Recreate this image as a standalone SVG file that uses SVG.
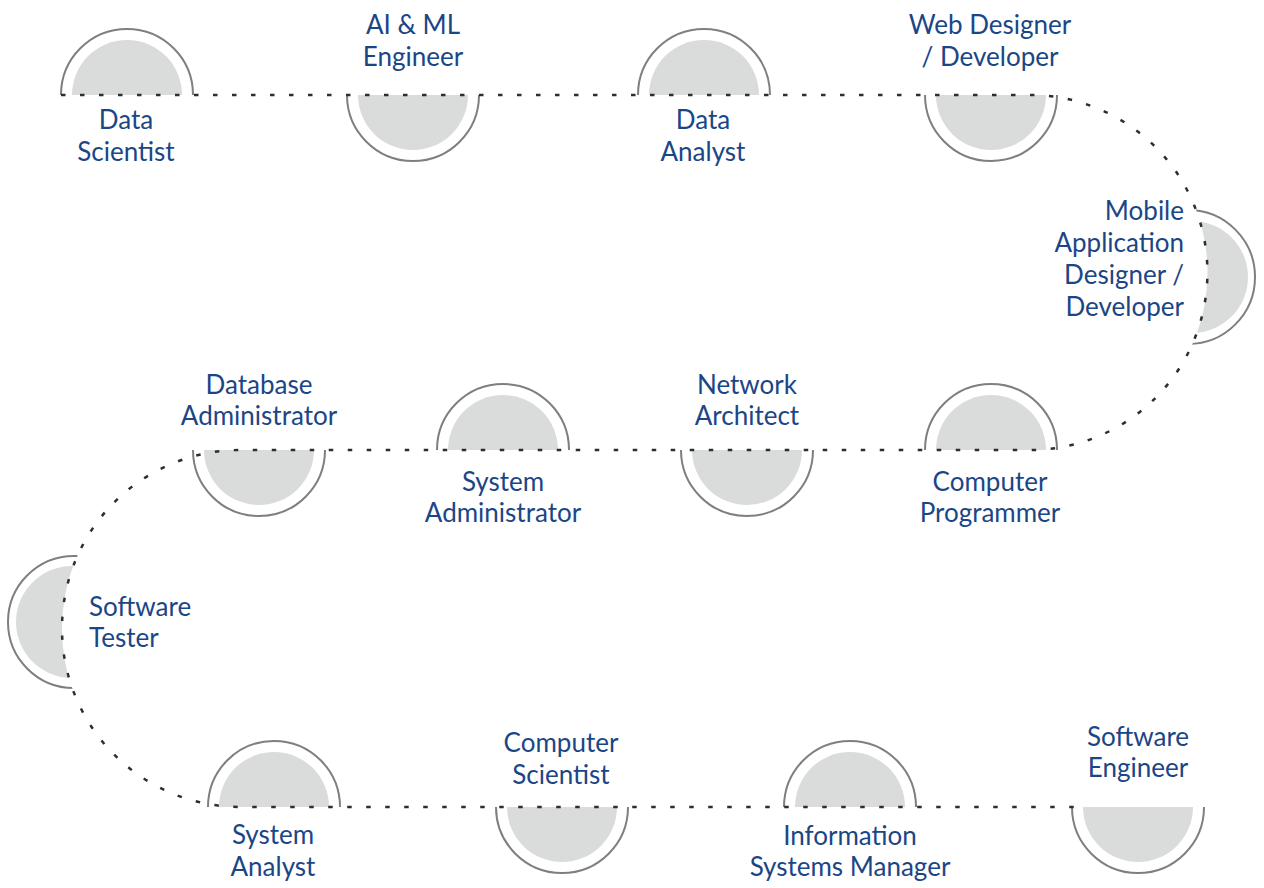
<svg xmlns="http://www.w3.org/2000/svg" xmlns:xlink="http://www.w3.org/1999/xlink" width="1264" height="888" viewBox="0 0 1264 888">
  <style>
    .fill { fill: #dadbdb; stroke: none; }
    .ring { fill: none; stroke: #7f7f7f; stroke-width: 2; }
    .path { fill: none; stroke: #2e2e2e; stroke-width: 2.5; stroke-dasharray: 4.5 14.5; }
    .lbl { font-family: Lato, "Open Sans", "Liberation Sans", sans-serif; font-size: 26px; fill: #1b4686; text-anchor: middle; }
    .lbl-r { text-anchor: end; }
    .lbl-l { text-anchor: start; }
  </style>
  <defs>
    <g id="nodeUp">
      <path class="fill" d="M-55,0 A55,55 0 0 1 55,0 Z"/>
      <path class="ring" d="M-66,0 A66,66 0 0 1 66,0"/>
    </g>
    <g id="nodeDown">
      <path class="fill" d="M-55,0 A55,55 0 0 0 55,0 Z"/>
      <path class="ring" d="M-66,0 A66,66 0 0 0 66,0"/>
    </g>
    <clipPath id="clipRight">
      <path clip-rule="evenodd" d="M0,0 H1264 V888 H0 Z M852.5,272.5 A177.5,177.5 0 1 0 1207.5,272.5 A177.5,177.5 0 1 0 852.5,272.5 Z"/>
    </clipPath>
    <clipPath id="clipLeft">
      <path clip-rule="evenodd" d="M0,0 H1264 V888 H0 Z M62,628.5 A178.5,178.5 0 1 0 419,628.5 A178.5,178.5 0 1 0 62,628.5 Z"/>
    </clipPath>
  </defs>
  <rect width="1264" height="888" fill="#ffffff"/>

  <g id="node-data-scientist">
    <use xlink:href="#nodeUp" href="#nodeUp" x="127" y="95"/>
    <text class="lbl" x="126" y="129">Data</text>
    <text class="lbl" x="126" y="161">Scientist</text>
  </g>
  <g id="node-ai-ml-engineer">
    <use xlink:href="#nodeDown" href="#nodeDown" x="413" y="95"/>
    <text class="lbl" x="413" y="34">AI &amp; ML</text>
    <text class="lbl" x="413" y="66">Engineer</text>
  </g>
  <g id="node-data-analyst">
    <use xlink:href="#nodeUp" href="#nodeUp" x="704" y="95"/>
    <text class="lbl" x="703" y="129">Data</text>
    <text class="lbl" x="703" y="161">Analyst</text>
  </g>
  <g id="node-web-designer">
    <use xlink:href="#nodeDown" href="#nodeDown" x="991" y="95"/>
    <text class="lbl" x="990" y="34">Web Designer</text>
    <text class="lbl" x="990" y="66">/ Developer</text>
  </g>
  <g id="node-mobile-app">
    <g clip-path="url(#clipRight)">
      <circle class="fill" cx="1192" cy="277" r="56"/>
      <circle class="ring" cx="1188" cy="277" r="67"/>
    </g>
    <text class="lbl lbl-r" x="1184" y="220">Mobile</text>
    <text class="lbl lbl-r" x="1184" y="252">Application</text>
    <text class="lbl lbl-r" x="1184" y="284">Designer /</text>
    <text class="lbl lbl-r" x="1184" y="316">Developer</text>
  </g>
  <g id="node-computer-programmer">
    <use xlink:href="#nodeUp" href="#nodeUp" x="991" y="450"/>
    <text class="lbl" x="990" y="491">Computer</text>
    <text class="lbl" x="990" y="522">Programmer</text>
  </g>
  <g id="node-network-architect">
    <use xlink:href="#nodeDown" href="#nodeDown" x="747" y="450"/>
    <text class="lbl" x="747" y="394">Network</text>
    <text class="lbl" x="747" y="425">Architect</text>
  </g>
  <g id="node-system-administrator">
    <use xlink:href="#nodeUp" href="#nodeUp" x="503" y="450"/>
    <text class="lbl" x="503" y="491">System</text>
    <text class="lbl" x="503" y="522">Administrator</text>
  </g>
  <g id="node-database-administrator">
    <use xlink:href="#nodeDown" href="#nodeDown" x="259" y="450"/>
    <text class="lbl" x="259" y="394">Database</text>
    <text class="lbl" x="259" y="425">Administrator</text>
  </g>
  <g id="node-software-tester">
    <g clip-path="url(#clipLeft)">
      <circle class="fill" cx="72" cy="622" r="56"/>
      <circle class="ring" cx="74" cy="622" r="66"/>
    </g>
    <text class="lbl lbl-l" x="89" y="616">Software</text>
    <text class="lbl lbl-l" x="89" y="647">Tester</text>
  </g>
  <g id="node-system-analyst">
    <use xlink:href="#nodeUp" href="#nodeUp" x="274" y="807"/>
    <text class="lbl" x="273" y="844">System</text>
    <text class="lbl" x="273" y="876">Analyst</text>
  </g>
  <g id="node-computer-scientist">
    <use xlink:href="#nodeDown" href="#nodeDown" x="562" y="807"/>
    <text class="lbl" x="561" y="752">Computer</text>
    <text class="lbl" x="561" y="784">Scientist</text>
  </g>
  <g id="node-information-systems-manager">
    <use xlink:href="#nodeUp" href="#nodeUp" x="850" y="807"/>
    <text class="lbl" x="850" y="845">Information</text>
    <text class="lbl" x="850" y="876">Systems Manager</text>
  </g>
  <g id="node-software-engineer">
    <use xlink:href="#nodeDown" href="#nodeDown" x="1138" y="807"/>
    <text class="lbl" x="1138" y="746">Software</text>
    <text class="lbl" x="1138" y="777">Engineer</text>
  </g>

  <g id="connectors">
    <path class="path" d="M61,95 H1030 A177.5,177.5 0 0 1 1030,450 H240.5 A178.5,178.5 0 0 0 240.5,807 H1078"/>
  </g>
</svg>
